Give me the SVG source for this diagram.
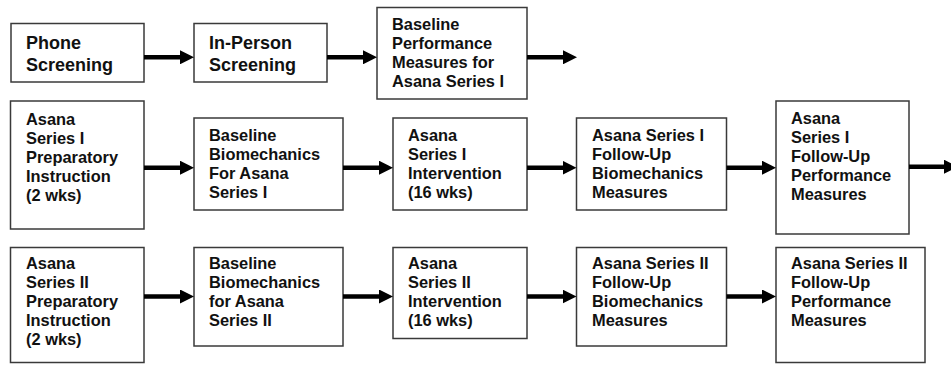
<svg xmlns="http://www.w3.org/2000/svg" width="951" height="367" viewBox="0 0 951 367">
<defs>
<style>
.box{fill:#fff;stroke:#3a3a3a;stroke-width:1.5}
.t{font-family:"Liberation Sans",Arial,sans-serif;font-weight:bold;font-size:16.4px;fill:#111}
.tl{font-size:18px}
.c{stroke:#000;stroke-width:4.5;fill:none}
</style>
<marker id="ah" markerUnits="userSpaceOnUse" markerWidth="14" markerHeight="14" refX="4" refY="7" orient="auto">
<path d="M0,0 L14,7 L0,14 z" fill="#000"/>
</marker>
</defs>
<rect width="951" height="367" fill="#fff"/>

<g id="phone"><rect class="box" x="11" y="23.5" width="133" height="58.5"/>
<text class="t tl"><tspan x="26" y="49.3">Phone</tspan><tspan x="26" y="70.7">Screening</tspan></text></g>
<g id="inperson"><rect class="box" x="194" y="23.5" width="133" height="58.5"/>
<text class="t tl"><tspan x="209" y="49.3">In-Person</tspan><tspan x="209" y="70.7">Screening</tspan></text></g>
<g id="baselineperf"><rect class="box" x="377" y="7.5" width="150" height="91.5"/>
<text class="t"><tspan x="392" y="30">Baseline</tspan><tspan x="392" y="49.3">Performance</tspan><tspan x="392" y="68.3">Measures for</tspan><tspan x="392" y="87.3">Asana Series I</tspan></text></g>

<g id="prep1"><rect class="box" x="10.5" y="101" width="133.5" height="128"/>
<text class="t"><tspan x="26" y="125.3">Asana</tspan><tspan x="26" y="144.3">Series I</tspan><tspan x="26" y="163.3">Preparatory</tspan><tspan x="26" y="182.3">Instruction</tspan><tspan x="26" y="201.3">(2 wks)</tspan></text></g>
<g id="biomech1"><rect class="box" x="194" y="118" width="149" height="92"/>
<text class="t"><tspan x="209" y="140.7">Baseline</tspan><tspan x="209" y="159.7">Biomechanics</tspan><tspan x="209" y="178.7">For Asana</tspan><tspan x="209" y="197.7">Series I</tspan></text></g>
<g id="interv1"><rect class="box" x="393" y="118" width="134" height="92"/>
<text class="t"><tspan x="408" y="140.7">Asana</tspan><tspan x="408" y="159.7">Series I</tspan><tspan x="408" y="178.7">Intervention</tspan><tspan x="408" y="197.7">(16 wks)</tspan></text></g>
<g id="fubio1"><rect class="box" x="576.5" y="118" width="150" height="92"/>
<text class="t"><tspan x="592" y="140.7">Asana Series I</tspan><tspan x="592" y="159.7">Follow-Up</tspan><tspan x="592" y="178.7">Biomechanics</tspan><tspan x="592" y="197.7">Measures</tspan></text></g>
<g id="fuperf1"><rect class="box" x="776" y="101" width="133" height="133"/>
<text class="t"><tspan x="791" y="124.3">Asana</tspan><tspan x="791" y="143.3">Series I</tspan><tspan x="791" y="162.3">Follow-Up</tspan><tspan x="791" y="181.3">Performance</tspan><tspan x="791" y="200.3">Measures</tspan></text></g>

<g id="prep2"><rect class="box" x="10.5" y="247.5" width="133.5" height="115"/>
<text class="t"><tspan x="26" y="269.3">Asana</tspan><tspan x="26" y="288.3">Series II</tspan><tspan x="26" y="307.3">Preparatory</tspan><tspan x="26" y="326.3">Instruction</tspan><tspan x="26" y="345.3">(2 wks)</tspan></text></g>
<g id="biomech2"><rect class="box" x="194" y="247.5" width="149" height="98.5"/>
<text class="t"><tspan x="209" y="269.3">Baseline</tspan><tspan x="209" y="288.3">Biomechanics</tspan><tspan x="209" y="307.3">for Asana</tspan><tspan x="209" y="326.3">Series II</tspan></text></g>
<g id="interv2"><rect class="box" x="393" y="247.5" width="134" height="91"/>
<text class="t"><tspan x="408" y="269.3">Asana</tspan><tspan x="408" y="288.3">Series II</tspan><tspan x="408" y="307.3">Intervention</tspan><tspan x="408" y="326.3">(16 wks)</tspan></text></g>
<g id="fubio2"><rect class="box" x="576.5" y="247.5" width="150" height="98.5"/>
<text class="t"><tspan x="592" y="269.3">Asana Series II</tspan><tspan x="592" y="288.3">Follow-Up</tspan><tspan x="592" y="307.3">Biomechanics</tspan><tspan x="592" y="326.3">Measures</tspan></text></g>
<g id="fuperf2"><rect class="box" x="776" y="247.5" width="149" height="115"/>
<text class="t"><tspan x="791" y="269.3">Asana Series II</tspan><tspan x="791" y="288.3">Follow-Up</tspan><tspan x="791" y="307.3">Performance</tspan><tspan x="791" y="326.3">Measures</tspan></text></g>

<g id="connectors" class="c" marker-end="url(#ah)">
<line x1="144" y1="57.3" x2="184" y2="57.3"/>
<line x1="327" y1="57.3" x2="367" y2="57.3"/>
<line x1="527" y1="57.3" x2="567" y2="57.3"/>
<line x1="144" y1="167.7" x2="184" y2="167.7"/>
<line x1="343" y1="167.7" x2="383" y2="167.7"/>
<line x1="527" y1="167.7" x2="566.5" y2="167.7"/>
<line x1="726.5" y1="167.7" x2="766" y2="167.7"/>
<line x1="909" y1="166.7" x2="948" y2="166.7"/>
<line x1="144" y1="296.5" x2="184" y2="296.5"/>
<line x1="343" y1="296.5" x2="383" y2="296.5"/>
<line x1="527" y1="296.5" x2="566.5" y2="296.5"/>
<line x1="726.5" y1="296.5" x2="766" y2="296.5"/>
</g>
</svg>
